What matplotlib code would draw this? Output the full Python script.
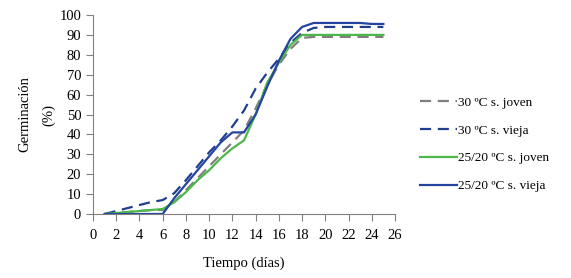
import matplotlib
matplotlib.use("Agg")
import matplotlib.pyplot as plt

days = [1, 2, 3, 4, 5, 6, 7, 8, 9, 10, 11, 12, 13, 14, 15, 16, 17, 18, 19, 20, 21, 22, 23, 24, 25]
joven_30 = [0, 0.5, 1, 1.5, 2, 2, 6, 12, 18, 24, 30, 36, 42, 53, 65, 75, 83, 88.5, 89, 89, 89, 89, 89, 89, 89]
vieja_30 = [0, 1.5, 3, 4.5, 6, 7, 10.5, 17, 24, 31, 37, 44, 52, 63, 71, 78, 86, 91, 93.5, 94, 94, 94, 94, 94, 94]
joven_2520 = [0, 0.5, 1, 1.5, 2, 2.5, 6, 11, 17, 22, 28, 33, 37, 50, 66, 76, 85, 90, 90, 90, 90, 90, 90, 90, 90]
vieja_2520 = [0, 0, 0, 0, 0, 0, 8, 15, 22, 29, 36, 41, 41, 50, 64, 77, 88, 94, 96, 96, 96, 96, 96, 95.5, 95.5]
labels = ["30 ºC s. joven", "30 ºC s. vieja", "25/20 ºC s. joven", "25/20 ºC s. vieja"]
xticks = list(range(0, 27, 2))
yticks = list(range(0, 101, 10))

plt.rcParams['font.family'] = ['Liberation Serif', 'DejaVu Serif']

fig = plt.figure(figsize=(5.71, 2.78), dpi=100)
ax = fig.add_axes([93/571, 1-214/278, (395-93)/571, (214-15)/278])

ax.plot(days, joven_30, color='#7f7f7f', lw=1.6, dashes=(5, 3), label=labels[0])
ax.plot(days, vieja_30, color='#1f3e8c', lw=1.6, dashes=(5, 3), label=labels[1])
ax.plot(days, joven_2520, color='#4db848', lw=1.6, label=labels[2])
ax.plot(days, vieja_2520, color='#2444a0', lw=1.6, label=labels[3])

ax.set_xlim(0, 26)
ax.set_ylim(0, 100)
ax.set_xticks(xticks)
ax.set_yticks(yticks)
for s in ['top', 'right']:
    ax.spines[s].set_visible(False)
for s in ['left', 'bottom']:
    ax.spines[s].set_color('#808080')
    ax.spines[s].set_linewidth(0.8)
ax.tick_params(axis='both', colors='#808080', length=5, width=0.8, labelsize=10.5, labelcolor='black')
ax.tick_params(axis='x', pad=6)
ax.set_xlabel('Tiempo (días)', fontsize=10.5, labelpad=10)
ax.set_ylabel('Germinación\n(%)', fontsize=10.5, labelpad=3, linespacing=2.0)

leg = fig.legend(loc='upper left', bbox_to_anchor=(408/571, 1-85/278), frameon=False,
                 fontsize=9.5, handlelength=2.8, handletextpad=0.1, labelspacing=1.17)

fig.savefig('out.png', dpi=100)
